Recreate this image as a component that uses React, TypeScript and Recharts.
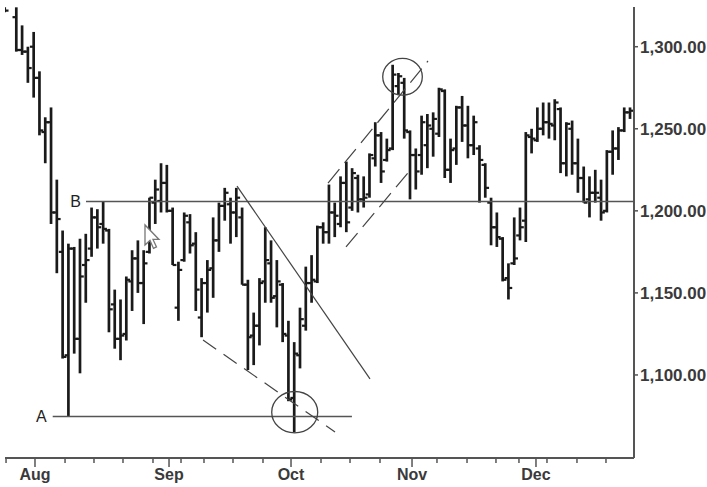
import React from 'react';
import { ComposedChart, Bar, XAxis, YAxis, ReferenceLine, ReferenceDot } from 'recharts';

// trading-day index of each bar (day 1 lies above the visible range)
const days = [
  0, 2, 3, 4, 5, 6, 7, 8, 9,
  10, 11, 12, 13, 14, 15, 16, 17, 18, 19,
  20, 21, 22, 23, 24, 25, 26, 27, 28, 29,
  30, 31, 32, 33, 34, 35, 36, 37, 38, 39,
  40, 41, 42, 43, 44, 45, 46, 47, 48, 49,
  50, 51, 52, 53, 54, 55, 56, 57, 58, 59,
  60, 61, 62, 63, 64, 65, 66, 67, 68, 69,
  70, 71, 72, 73, 74, 75, 76, 77, 78, 79,
  80, 81, 82, 83, 84, 85, 86, 87, 88, 89,
  90, 91, 92, 93, 94, 95, 96, 97, 98, 99,
  100, 101, 102, 103, 104, 105, 106, 107, 108,
];

const highs = [
  1324, 1324, 1313, 1300, 1309, 1285, 1257, 1263, 1219,
  1188, 1180, 1178, 1183, 1186, 1202, 1201, 1206, 1189, 1152,
  1146, 1160, 1176, 1182, 1176, 1208, 1219, 1229, 1228, 1202,
  1169, 1199, 1198, 1187, 1159, 1170, 1196, 1205, 1214, 1208,
  1214, 1202, 1158, 1138, 1159, 1190, 1182, 1170, 1156, 1133,
  1120, 1141, 1166, 1173, 1191, 1193, 1216, 1205, 1221, 1230,
  1226, 1222, 1221, 1235, 1254, 1248, 1244, 1289, 1284, 1281,
  1249, 1238, 1258, 1259, 1260, 1275, 1274, 1244, 1264, 1270,
  1264, 1258, 1240, 1229, 1208, 1199, 1184, 1168, 1196, 1202,
  1248, 1250, 1263, 1266, 1266, 1268, 1263, 1254, 1255, 1244,
  1227, 1221, 1225, 1219, 1237, 1249, 1251, 1263, 1263,
];

const lows = [
  1321, 1297, 1295, 1278, 1269, 1246, 1229, 1192, 1162,
  1110, 1075, 1113, 1101, 1144, 1172, 1177, 1180, 1126, 1116,
  1109, 1121, 1139, 1150, 1131, 1174, 1192, 1199, 1199, 1167,
  1133, 1169, 1174, 1139, 1123, 1138, 1147, 1175, 1194, 1180,
  1184, 1155, 1103, 1106, 1118, 1144, 1144, 1129, 1120, 1084,
  1065, 1104, 1127, 1144, 1156, 1180, 1180, 1184, 1190, 1187,
  1200, 1199, 1202, 1208, 1227, 1217, 1230, 1237, 1271, 1244,
  1207, 1213, 1222, 1226, 1233, 1245, 1220, 1217, 1228, 1242,
  1232, 1234, 1205, 1208, 1179, 1178, 1157, 1146, 1167, 1182,
  1181, 1235, 1242, 1246, 1244, 1243, 1223, 1221, 1222, 1211,
  1205, 1196, 1205, 1194, 1199, 1222, 1231, 1248, 1256,
];

const opens = [
  1323, 1318, 1298, 1297, 1300, 1281, 1248, 1254, 1199,
  1175, 1112, 1177, 1122, 1167, 1177, 1196, 1192, 1188, 1143,
  1122, 1125, 1157, 1171, 1156, 1175, 1205, 1206, 1217, 1200,
  1141, 1170, 1193, 1180, 1135, 1156, 1165, 1182, 1203, 1204,
  1199, 1196, 1155, 1124, 1130, 1157, 1168, 1148, 1155, 1124,
  1086, 1112, 1130, 1156, 1157, 1190, 1187, 1199, 1192, 1217,
  1202, 1220, 1207, 1210, 1232, 1246, 1231, 1238, 1276, 1278,
  1248, 1234, 1234, 1240, 1250, 1247, 1273, 1225, 1238, 1263,
  1252, 1240, 1238, 1228, 1205, 1190, 1183, 1159, 1168, 1185,
  1194, 1245, 1243, 1250, 1254, 1252, 1262, 1229, 1250, 1229,
  1220, 1207, 1211, 1208, 1200, 1236, 1238, 1249, 1260,
];

const closes = [
  1322, 1298, 1297, 1287, 1281, 1249, 1254, 1199, 1195,
  1111, 1177, 1122, 1160, 1170, 1196, 1190, 1189, 1140, 1122,
  1124, 1158, 1171, 1156, 1168, 1208, 1213, 1217, 1200, 1167,
  1164, 1197, 1179, 1152, 1156, 1164, 1182, 1203, 1211, 1199,
  1208, 1155, 1123, 1130, 1156, 1170, 1147, 1157, 1125, 1085,
  1113, 1134, 1156, 1158, 1190, 1187, 1199, 1197, 1217, 1193,
  1223, 1207, 1208, 1234, 1246, 1224, 1237, 1283, 1282, 1249,
  1234, 1224, 1254, 1252, 1256, 1274, 1225, 1237, 1263, 1252,
  1240, 1254, 1231, 1214, 1190, 1184, 1158, 1153, 1171, 1190,
  1246, 1244, 1250, 1254, 1253, 1266, 1229, 1253, 1229, 1220,
  1205, 1211, 1211, 1199, 1236, 1238, 1249, 1260, 1261,
];

const monthLabels = ['Aug', 'Sep', 'Oct', 'Nov', 'Dec'];
const monthTickDays = [5.16, 28.31, 49.38, 70.28, 91.69];
const weekTickDays = [
  0.16, 10.35, 15.35, 20.36, 25.54, 30.38, 34.35, 39.36, 44.54,
  54.56, 59.57, 64.75, 74.59, 79.78, 84.78, 88.75, 93.59, 98.77, 103.78,
];
const priceTicks = [1100, 1150, 1200, 1250, 1300];

const levelA = 1074.7;
const levelB = 1205.7;

const data = days.map((d, i) => ({
  day: d,
  range: [lows[i], highs[i]],
  high: highs[i],
  low: lows[i],
  open: opens[i],
  close: closes[i],
}));

const allXTicks = [...weekTickDays, ...monthTickDays].sort((a, b) => a - b);

const FONT = '"Liberation Sans", Arial, Helvetica, sans-serif';
const INK = '#1a1a1a';
const LINE = '#555';
const LABEL = '#3a3a3a';

const OhlcShape = (props: any) => {
  const { x, y, width, height, payload } = props;
  if (x == null || y == null || height == null || !payload) return null;
  const top = Math.min(y, y + height);
  const h = Math.abs(height);
  const cx = x + width / 2;
  const span = payload.high - payload.low;
  const k = span > 0 ? h / span : 0;
  const yo = top + (payload.high - payload.open) * k;
  const yc = top + (payload.high - payload.close) * k;
  return (
    <g stroke={INK}>
      <line x1={cx} x2={cx} y1={top} y2={top + h} strokeWidth={2.7} />
      <line x1={cx - 3.8} x2={cx} y1={yo} y2={yo} strokeWidth={2.2} />
      <line x1={cx} x2={cx + 3.8} y1={yc} y2={yc} strokeWidth={2.2} />
    </g>
  );
};

const XTick = (props: any) => {
  const { x, y, payload } = props;
  const mi = monthTickDays.indexOf(payload.value);
  const major = mi >= 0;
  return (
    <g>
      <line x1={x} x2={x} y1={y} y2={y + (major ? 9 : 5)} stroke={LINE} strokeWidth={1.5} />
      {major && (
        <text x={x} y={y + 22} textAnchor="middle" fill={LABEL} fontSize={16} fontWeight="bold" fontFamily={FONT}>
          {monthLabels[mi]}
        </text>
      )}
    </g>
  );
};

const Ellipse = (rx: number, ry: number) => (p: any) => (
  <ellipse cx={p.cx} cy={p.cy} rx={rx} ry={ry} fill="none" stroke="#444" strokeWidth={1.3} />
);

const Pointer = (p: any) => {
  const { cx, cy } = p;
  const pts = [
    [0, 0], [0, 20], [5, 15.5], [8.5, 23.5], [11.5, 22], [8, 14.5], [14, 14.5],
  ].map(([dx, dy]) => `${cx + dx},${cy + dy}`).join(' ');
  return <polygon points={pts} fill="#fff" stroke="#777" strokeWidth={1.3} />;
};

const fmt = (v: number) =>
  v.toLocaleString('en-US', { minimumFractionDigits: 2, maximumFractionDigits: 2 });

export default function App() {
  return (
    <div style={{ position: 'absolute', left: 0, top: 0, width: 707, height: 487, background: '#fff' }}>
      <ComposedChart
        width={707}
        height={487}
        data={data}
        margin={{ top: 7, right: 0, bottom: 0, left: 5 }}
      >
        <XAxis
          dataKey="day"
          type="number"
          domain={[-0.02, 108.62]}
          allowDataOverflow
          ticks={allXTicks}
          interval={0}
          tick={<XTick />}
          tickLine={false}
          tickSize={0}
          tickMargin={0}
          height={29}
          axisLine={{ stroke: LINE, strokeWidth: 2 }}
        />
        <YAxis
          orientation="right"
          type="number"
          domain={[1049.4, 1324.2]}
          allowDataOverflow
          ticks={priceTicks}
          tickFormatter={fmt}
          width={73}
          tickSize={4}
          tickMargin={2}
          tickLine={{ stroke: LINE, strokeWidth: 1.5 }}
          axisLine={{ stroke: LINE, strokeWidth: 2 }}
          tick={{ fill: LABEL, fontSize: 17, fontWeight: 'bold', fontFamily: FONT }}
        />
        <Bar dataKey="range" shape={OhlcShape} isAnimationActive={false} barSize={5} />

        <ReferenceLine
          segment={[{ x: 13.97, y: levelB }, { x: 108.62, y: levelB }]}
          stroke="#555"
          strokeWidth={1.5}
          label={{ value: 'B', position: 'left', offset: 5, fill: '#222', fontSize: 16, fontFamily: FONT }}
        />
        <ReferenceLine
          segment={[{ x: 8.22, y: levelA }, { x: 59.9, y: levelA }]}
          stroke="#555"
          strokeWidth={1.5}
          label={{ value: 'A', position: 'left', offset: 6, fill: '#222', fontSize: 16, fontFamily: FONT }}
        />
        <ReferenceLine
          segment={[{ x: 40.05, y: 1215.1 }, { x: 63.02, y: 1097.6 }]}
          stroke="#444"
          strokeWidth={1.2}
        />
        <ReferenceLine
          segment={[{ x: 34.18, y: 1121.3 }, { x: 56.98, y: 1065.3 }]}
          stroke="#444"
          strokeWidth={1.2}
          strokeDasharray="16 9"
        />
        <ReferenceLine
          segment={[{ x: 55.77, y: 1216.9 }, { x: 73.04, y: 1291.3 }]}
          stroke="#444"
          strokeWidth={1.2}
          strokeDasharray="18 8"
        />
        <ReferenceLine
          segment={[{ x: 58.88, y: 1178.0 }, { x: 70.27, y: 1226.1 }]}
          stroke="#444"
          strokeWidth={1.2}
          strokeDasharray="18 8"
        />
        <ReferenceDot x={50.02} y={1077.3} shape={Ellipse(23, 20.7)} />
        <ReferenceDot x={68.64} y={1281.7} shape={Ellipse(19.8, 18.3)} />
        <ReferenceDot x={24.16} y={1191.4} shape={Pointer} />
      </ComposedChart>
    </div>
  );
}
